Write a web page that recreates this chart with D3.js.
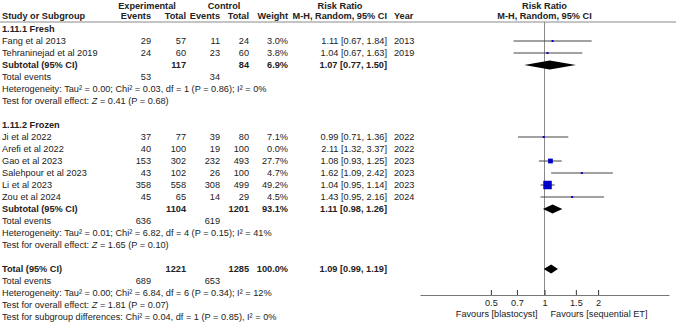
<!DOCTYPE html>
<html>
<head>
<meta charset="utf-8">
<script src="https://cdn.jsdelivr.net/npm/d3@7"></script>
<style>
  body { margin: 0; background: #fff; }
  svg { display: block; }
  text { font-family: Arial, "Liberation Sans", sans-serif; font-size: 9.2px; fill: #222; }
  .b { font-weight: bold; }
</style>
</head>
<body>
<div id="chart"></div>
<script>
// fresh subgroup
const freshStudies = ['Fang et al 2013', 'Tehraninejad et al 2019'];
const freshExpEvents = [29, 24];
const freshExpTotal = [57, 60];
const freshCtrlEvents = [11, 23];
const freshCtrlTotal = [24, 60];
const freshWeight = [3.0, 3.8];
const freshRR = [1.11, 1.04];
const freshLo = [0.67, 0.67];
const freshHi = [1.84, 1.63];
const freshYear = [2013, 2019];

// frozen subgroup
const frozenStudies = ['Ji et al 2022', 'Arefi et al 2022', 'Gao et al 2023', 'Salehpour et al 2023', 'Li et al 2023', 'Zou et al 2024'];
const frozenExpEvents = [37, 40, 153, 43, 358, 45];
const frozenExpTotal = [77, 100, 302, 102, 558, 65];
const frozenCtrlEvents = [39, 19, 232, 26, 308, 14];
const frozenCtrlTotal = [80, 100, 493, 100, 499, 29];
const frozenWeight = [7.1, 0.0, 27.7, 4.7, 49.2, 4.5];
const frozenRR = [0.99, 2.11, 1.08, 1.62, 1.04, 1.43];
const frozenLo = [0.71, 1.32, 0.93, 1.09, 0.95, 0.95];
const frozenHi = [1.36, 3.37, 1.25, 2.42, 1.14, 2.16];
const frozenYear = [2022, 2022, 2023, 2023, 2023, 2024];

// pooled rows: fresh subtotal, frozen subtotal, overall
const pooledLabels = ['Subtotal (95% CI)', 'Subtotal (95% CI)', 'Total (95% CI)'];
const pooledExpTotal = [117, 1104, 1221];
const pooledCtrlTotal = [84, 1201, 1285];
const pooledWeight = ['6.9%', '93.1%', '100.0%'];
const pooledRR = [1.07, 1.11, 1.09];
const pooledLo = [0.77, 0.98, 0.99];
const pooledHi = [1.50, 1.26, 1.19];
const pooledExpEvents = [53, 636, 689];
const pooledCtrlEvents = [34, 619, 653];
const pooledHet = [
  'Heterogeneity: Tau² = 0.00; Chi² = 0.03, df = 1 (P = 0.86); I² = 0%',
  'Heterogeneity: Tau² = 0.01; Chi² = 6.82, df = 4 (P = 0.15); I² = 41%',
  'Heterogeneity: Tau² = 0.00; Chi² = 6.84, df = 6 (P = 0.34); I² = 12%'
];
const pooledZ = ['0.41 (P = 0.68)', '1.65 (P = 0.10)', '1.81 (P = 0.07)'];
const subgroupTest = 'Test for subgroup differences: Chi² = 0.04, df = 1 (P = 0.85), I² = 0%';

const axisTicks = [0.5, 0.7, 1, 1.5, 2];

const width = 676, height = 327;
const rowH = 12, row0 = 29;
const rowY = i => row0 + i * rowH;
const col = { expEv: 151, expTot: 186, ctlEv: 220, ctlTot: 249, weight: 288, ci: 387, year: 394 };
const fmt = d3.format('.2f');
const ciText = (r, l, h) => `${fmt(r)} [${fmt(l)}, ${fmt(h)}]`;

const svg = d3.select('#chart').append('svg')
  .attr('width', width)
  .attr('height', height);

const x = d3.scaleLog()
  .domain([0.2, 5])
  .range([420, 669]);

const boxSize = d3.scaleLinear()
  .domain([0, 49.2])
  .range([0, 8.5]);

function txt(xx, y, s, anchor, cls) {
  return svg.append('text')
    .attr('x', xx)
    .attr('y', y)
    .attr('dy', '0.35em')
    .attr('text-anchor', anchor || 'start')
    .attr('class', cls || null)
    .text(s);
}

// header
txt(147, 6, 'Experimental', 'middle', 'b');
txt(224, 6, 'Control', 'middle', 'b');
txt(340, 6, 'Risk Ratio', 'middle', 'b');
txt(x(1), 6, 'Risk Ratio', 'middle', 'b');
txt(2, 16, 'Study or Subgroup', 'start', 'b');
txt(col.expEv, 16, 'Events', 'end', 'b');
txt(col.expTot, 16, 'Total', 'end', 'b');
txt(col.ctlEv, 16, 'Events', 'end', 'b');
txt(col.ctlTot, 16, 'Total', 'end', 'b');
txt(col.weight, 16, 'Weight', 'end', 'b');
txt(col.ci, 16, 'M-H, Random, 95% CI', 'end', 'b');
txt(col.year, 16, 'Year', 'start', 'b');
txt(x(1), 16, 'M-H, Random, 95% CI', 'middle', 'b');

svg.append('line')
  .attr('x1', 0).attr('x2', width)
  .attr('y1', 22).attr('y2', 22)
  .attr('stroke', '#8a8a8a')
  .attr('stroke-width', 1);

// null line
svg.append('line')
  .attr('x1', x(1)).attr('x2', x(1))
  .attr('y1', 22).attr('y2', 295)
  .attr('stroke', '#8a8a8a')
  .attr('stroke-width', 1);

function drawStudies(startRow, names, ee, et, ce, ct, w, rr, lo, hi, yr) {
  names.forEach((name, i) => {
    const y = rowY(startRow + i);
    txt(2, y, name);
    txt(col.expEv, y, ee[i], 'end');
    txt(col.expTot, y, et[i], 'end');
    txt(col.ctlEv, y, ce[i], 'end');
    txt(col.ctlTot, y, ct[i], 'end');
    txt(col.weight, y, fmt(w[i]).slice(0, -1) + '%', 'end');
    txt(col.ci, y, ciText(rr[i], lo[i], hi[i]), 'end');
    txt(col.year, y, yr[i]);
  });
  const rows = names.map((n, i) => ({ y: rowY(startRow + i), w: w[i], rr: rr[i], lo: lo[i], hi: hi[i] }))
    .filter(d => d.w > 0);
  const g = svg.append('g');
  g.selectAll('line')
    .data(rows)
    .join('line')
      .attr('x1', d => x(d.lo))
      .attr('x2', d => x(d.hi))
      .attr('y1', d => d.y)
      .attr('y2', d => d.y)
      .attr('stroke', '#444')
      .attr('stroke-width', 1);
  g.selectAll('rect')
    .data(rows)
    .join('rect')
      .attr('x', d => x(d.rr) - Math.max(2, boxSize(d.w)) / 2)
      .attr('y', d => d.y - Math.max(2, boxSize(d.w)) / 2)
      .attr('width', d => Math.max(2, boxSize(d.w)))
      .attr('height', d => Math.max(2, boxSize(d.w)))
      .attr('fill', '#0000c8');
}

function drawPooled(k, row) {
  const y = rowY(row);
  txt(2, y, pooledLabels[k], 'start', 'b');
  txt(col.expTot, y, pooledExpTotal[k], 'end', 'b');
  txt(col.ctlTot, y, pooledCtrlTotal[k], 'end', 'b');
  txt(col.weight, y, pooledWeight[k], 'end', 'b');
  txt(col.ci, y, ciText(pooledRR[k], pooledLo[k], pooledHi[k]), 'end', 'b');
  svg.append('path')
    .attr('d', `M${x(pooledLo[k])},${y}L${x(pooledRR[k])},${y - 4.5}L${x(pooledHi[k])},${y}L${x(pooledRR[k])},${y + 4.5}Z`)
    .attr('fill', '#000');
  txt(2, rowY(row + 1), 'Total events');
  txt(col.expEv, rowY(row + 1), pooledExpEvents[k], 'end');
  txt(col.ctlEv, rowY(row + 1), pooledCtrlEvents[k], 'end');
  txt(2, rowY(row + 2), pooledHet[k]);
  const t = txt(2, rowY(row + 3), 'Test for overall effect: ');
  t.append('tspan').attr('font-style', 'italic').text('Z');
  t.append('tspan').text(' = ' + pooledZ[k]);
}

txt(2, rowY(0), '1.11.1 Fresh', 'start', 'b');
drawStudies(1, freshStudies, freshExpEvents, freshExpTotal, freshCtrlEvents, freshCtrlTotal,
  freshWeight, freshRR, freshLo, freshHi, freshYear);
drawPooled(0, 3);

txt(2, rowY(8), '1.11.2 Frozen', 'start', 'b');
drawStudies(9, frozenStudies, frozenExpEvents, frozenExpTotal, frozenCtrlEvents, frozenCtrlTotal,
  frozenWeight, frozenRR, frozenLo, frozenHi, frozenYear);
drawPooled(1, 15);

drawPooled(2, 20);
txt(2, rowY(24), subgroupTest);

// axis
const axis = d3.axisBottom(x)
  .tickValues(axisTicks)
  .tickFormat(d => d)
  .tickSizeInner(-5)
  .tickSizeOuter(0)
  .tickPadding(3);
const ax = svg.append('g')
  .attr('transform', 'translate(0, 295)')
  .call(axis);
ax.select('.domain').attr('stroke', '#777');
ax.selectAll('.tick line').attr('stroke', '#333').attr('y2', -5);
ax.selectAll('.tick text')
  .attr('font-size', null)
  .attr('font-family', null)
  .attr('fill', null)
  .attr('y', 4);

txt(x(1) - 7, 314, 'Favours [blastocyst]', 'end');
txt(x(1) + 6, 314, 'Favours [sequential ET]', 'start');
</script>
</body>
</html>
